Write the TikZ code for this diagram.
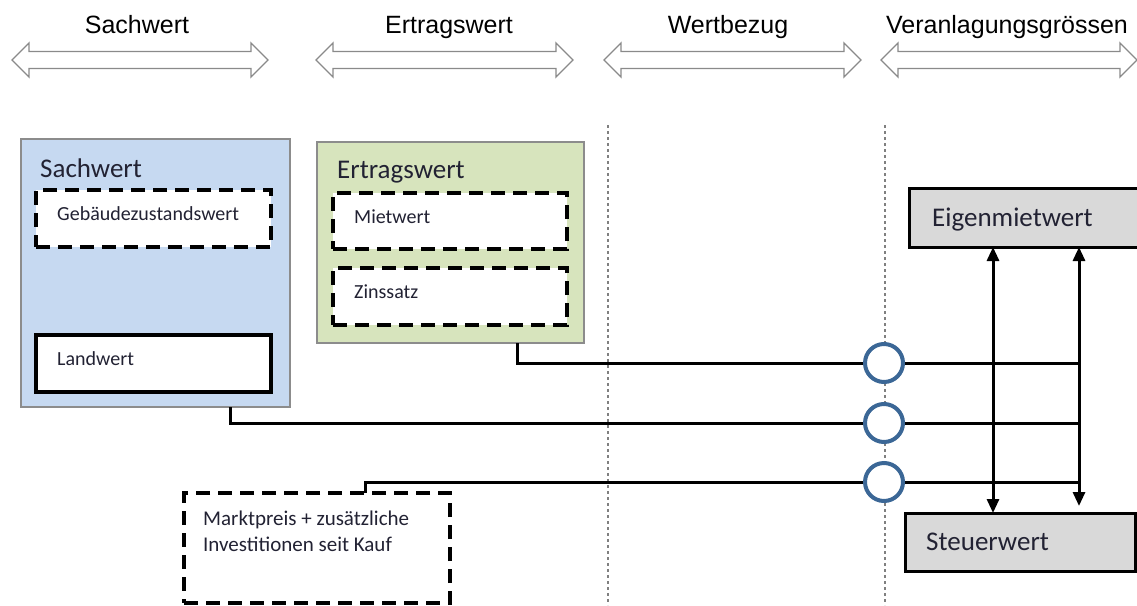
\documentclass[tikz,border=0pt]{standalone}
\usepackage{fontspec}
\setmainfont{Carlito}
\newfontfamily\headfont{Liberation Sans}
\usetikzlibrary{arrows.meta}

\definecolor{sachfill}{HTML}{C6D9F1}
\definecolor{ertragfill}{HTML}{D7E4BD}
\definecolor{framegray}{HTML}{8C8C8C}
\definecolor{boxgray}{HTML}{D9D9D9}
\definecolor{ringblue}{HTML}{3B6796}
\definecolor{arrowgray}{HTML}{8A8A8A}
\definecolor{textdark}{HTML}{222233}

% hollow double-headed header arrow: x-left, x-right, y-centre
\newcommand\hdrarrow[3]{%
  \draw[hdrshape] (#1,#3) -- (#1+17,#3-17) -- (#1+17,#3-8.5) -- (#2-17,#3-8.5)
    -- (#2-17,#3-17) -- (#2,#3) -- (#2-17,#3+17) -- (#2-17,#3+8.5)
    -- (#1+17,#3+8.5) -- (#1+17,#3+17) -- cycle;}

\begin{document}
\begin{tikzpicture}[x=1pt,y=-1pt,
  hdrshape/.style={draw=arrowgray,fill=white,line width=1.3pt,line join=miter},
  hdrtext/.style={font=\headfont\fontsize{25}{30}\selectfont,text=black,anchor=base,inner sep=0pt},
  groupbox/.style={rectangle,draw=framegray,line width=1.3pt,inner sep=0pt,outer sep=0pt},
  dashbox/.style={rectangle,draw=black,fill=white,line width=3.5pt,dash pattern=on 14pt off 8pt,inner sep=0pt,outer sep=0pt},
  solidbox/.style={rectangle,draw=black,fill=white,line width=4pt,inner sep=0pt,outer sep=0pt},
  resultbox/.style={rectangle,draw=black,fill=boxgray,line width=3pt,inner sep=0pt,outer sep=0pt},
  titletext/.style={font=\fontsize{27}{32}\selectfont,text=textdark,anchor=base west,inner sep=0pt},
  itemtext/.style={font=\fontsize{20}{24}\selectfont,text=textdark,anchor=base west,inner sep=0pt},
  guide/.style={draw=gray,line width=1.3pt,dash pattern=on 3pt off 3pt},
  conn/.style={draw=black,line width=3pt},
  ring/.style={circle,draw=ringblue,fill=white,line width=4pt,minimum size=38pt,inner sep=0pt},
  link/.style={draw=black,line width=3pt,{Triangle[length=14pt,width=12pt]}-{Triangle[length=14pt,width=12pt]}}
]
\useasboundingbox (0,0) rectangle (1137,605);

% column headers
\hdrarrow{12}{268}{60}
\hdrarrow{316}{573}{60}
\hdrarrow{604}{861}{60}
\hdrarrow{881}{1137}{60}
\node[hdrtext] (hsach) at (137,33) {Sachwert};
\node[hdrtext] (hertrag) at (449,33) {Ertragswert};
\node[hdrtext] (hbezug) at (728,33) {Wertbezug};
\node[hdrtext] (hveranl) at (1007,33) {Veranlagungsgrössen};

% column separators
\draw[guide] (608,125) -- (608,605);
\draw[guide] (885,125) -- (885,605);

% Sachwert group
\node[groupbox,fill=sachfill,minimum width=269pt,minimum height=268pt] (sach) at (155.5,273) {};
\node[titletext] (sachtitle) at (40,177) {Sachwert};
\node[dashbox,minimum width=235pt,minimum height=57pt] (gebaeude) at (153.5,218.5) {};
\node[itemtext] (gebaeudetext) at (57,220) {Gebäudezustandswert};
\node[solidbox,minimum width=235pt,minimum height=57pt] (land) at (153.5,363.5) {};
\node[itemtext] (landtext) at (57,365) {Landwert};

% Ertragswert group
\node[groupbox,fill=ertragfill,minimum width=267pt,minimum height=201pt] (ertrag) at (450.5,242.5) {};
\node[titletext] (ertragtitle) at (337,178) {Ertragswert};
\node[dashbox,minimum width=234pt,minimum height=56pt] (miet) at (450,221) {};
\node[itemtext] (miettext) at (354,223) {Mietwert};
\node[dashbox,minimum width=234pt,minimum height=57pt] (zins) at (450,296.5) {};
\node[itemtext] (zinstext) at (354,298) {Zinssatz};

% market price box
\node[dashbox,minimum width=266pt,minimum height=110pt] (markt) at (317,548) {};
\node[itemtext,font=\fontsize{21}{25}\selectfont] (markt1) at (203,525) {Marktpreis + zusätzliche};
\node[itemtext,font=\fontsize{21}{25}\selectfont] (markt2) at (203,551) {Investitionen seit Kauf};

% assessment values
\node[resultbox,minimum width=232pt,minimum height=59pt] (eigen) at (1025,217.5) {};
\node[titletext] (eigentext) at (932,226) {Eigenmietwert};
\node[resultbox,minimum width=230pt,minimum height=58pt] (steuer) at (1020,542) {};
\node[titletext] (steuertext) at (926,550) {Steuerwert};

% junction points on the separator, the collecting bus and the link axis
\coordinate (j1) at (884,363);
\coordinate (j2) at (884,423);
\coordinate (j3) at (884,482);
\coordinate (bus) at (1079,0);
\coordinate (axis) at (993,0);
\coordinate (e1) at (517,343);
\coordinate (s1) at (230,407);
\coordinate (m1) at (365,493);

% feeds through the junctions into the bus
\draw[conn] (e1) |- (j1 -| bus);
\draw[conn] (s1) |- (j2 -| bus);
\draw[conn] (m1) |- (j3 -| bus);

% links between the two assessment values
\draw[link] (eigen.south -| axis) -- (steuer.north -| axis);
\draw[link,shorten >=7pt] (eigen.south -| bus) -- (steuer.north -| bus);

% rings sitting on the lines
\node[ring] (r1) at (j1) {};
\node[ring] (r2) at (j2) {};
\node[ring] (r3) at (j3) {};
\end{tikzpicture}
\end{document}
